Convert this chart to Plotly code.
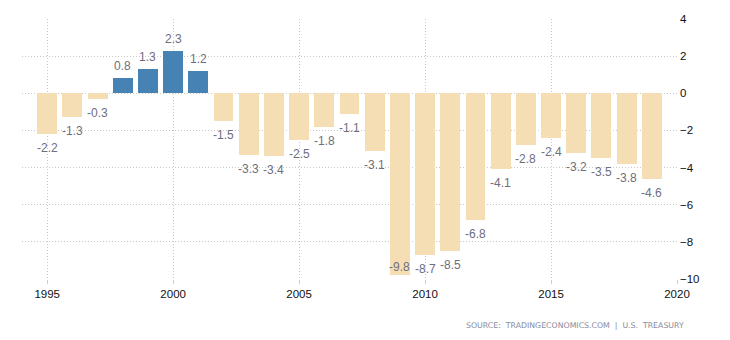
import plotly.graph_objects as go

years = list(range(1995, 2020))
values = [-2.2, -1.3, -0.3, 0.8, 1.3, 2.3, 1.2, -1.5, -3.3, -3.4, -2.5, -1.8, -1.1,
          -3.1, -9.8, -8.7, -8.5, -6.8, -4.1, -2.8, -2.4, -3.2, -3.5, -3.8, -4.6]
x_ticks = [1995, 2000, 2005, 2010, 2015, 2020]
y_ticks = [4, 2, 0, -2, -4, -6, -8, -10]

POS = "#4682B4"
NEG = "#F5DEB3"
colors = [POS if v >= 0 else NEG for v in values]

fig = go.Figure()
fig.add_trace(go.Bar(x=years, y=values, marker_color=colors, marker_line_width=0,
                     width=0.79, hoverinfo="x+y"))

ann = []
for yr, v in zip(years, values):
    if v >= 0:
        ys = 12
    elif v <= -9.5:
        ys = 8
    else:
        ys = -14
    ann.append(dict(x=yr, y=v, text=f"{v:.1f}", showarrow=False, yshift=ys,
                    font=dict(family="Liberation Sans", size=12, color="#6e6e7c")))
ann.append(dict(xref="paper", yref="paper", x=1.014, y=-0.177, xanchor="right",
                yanchor="middle", showarrow=False,
                text="SOURCE:  TRADINGECONOMICS.COM  |  U.S.  TREASURY",
                font=dict(family="DejaVu Sans", size=7.8, color="#8a8a99")))

fig.update_layout(
    width=730, height=340,
    margin=dict(l=22, r=53, t=19, b=61),
    plot_bgcolor="white", paper_bgcolor="white",
    showlegend=False,
    bargap=0,
    annotations=ann,
    xaxis=dict(range=[1994, 2020], tickvals=x_ticks, ticktext=[str(t) for t in x_ticks],
               showgrid=True, gridcolor="#c8c8c8", griddash="1px,2px", gridwidth=1,
               zeroline=False, ticks="outside", ticklen=4, tickcolor="#cccccc",
               tickfont=dict(family="Liberation Sans", size=11.5, color="#111111"),
               showline=False),
    yaxis=dict(range=[-10, 4], tickvals=y_ticks, side="right",
               showgrid=True, gridcolor="#c8c8c8", griddash="1px,2px", gridwidth=1,
               zeroline=False, ticks="", ticklabelstandoff=2,
               tickfont=dict(family="Liberation Sans", size=11.5, color="#111111"),
               showline=False),
)

fig.write_html("out.html")
